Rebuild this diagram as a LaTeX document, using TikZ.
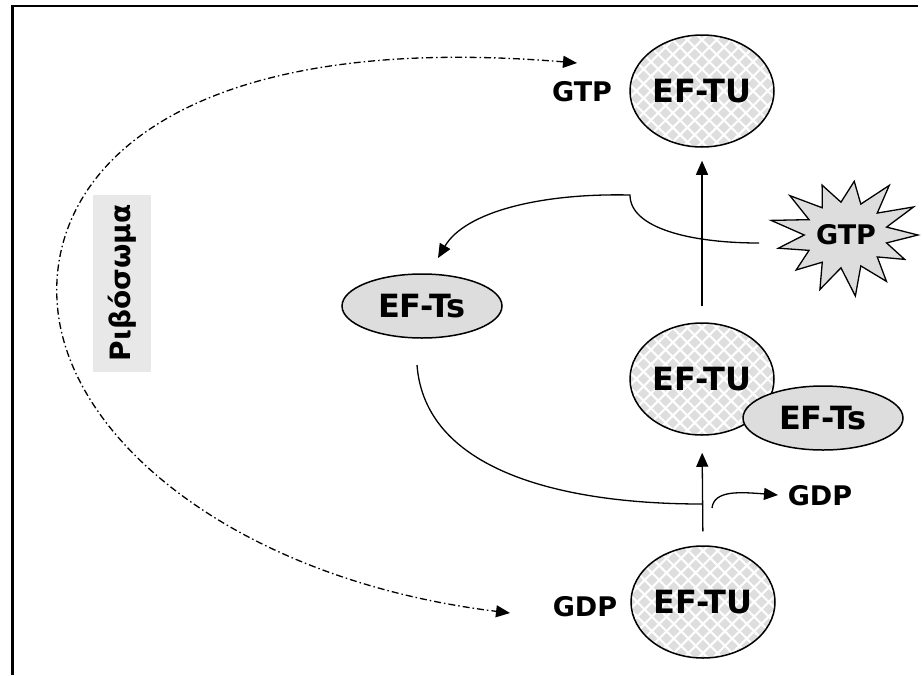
\documentclass[tikz,border=0pt]{standalone}
\usepackage{fontspec}
\setmainfont{DejaVu Sans}
\usetikzlibrary{shapes.geometric,arrows.meta,calc}
\definecolor{diamc}{HTML}{DEDEDE}
\definecolor{tsgray}{HTML}{DDDDDD}
\definecolor{ribgray}{HTML}{E8E8E8}
\newcommand{\myEF}{\bfseries\fontsize{32}{38}\selectfont}
\newcommand{\myLB}{\bfseries\fontsize{27}{32}\selectfont}
\newcommand{\myGR}{\bfseries\fontsize{28}{33}\selectfont}
\tikzset{
  diamonds/.style={path picture={
    \foreach \a in {-6,...,6}{\foreach \b in {-5,...,5}{
      \fill[diamc] ($(path picture bounding box.center)+(\a*14.6pt,\b*14.6pt)$)
        +(-5.6pt,0pt) -- +(0pt,-5.6pt) -- +(5.6pt,0pt) -- +(0pt,5.6pt) -- cycle;
      \fill[diamc] ($(path picture bounding box.center)+(\a*14.6pt+7.3pt,\b*14.6pt+7.3pt)$)
        +(-5.6pt,0pt) -- +(0pt,-5.6pt) -- +(5.6pt,0pt) -- +(0pt,5.6pt) -- cycle;
    }}}},
  tu/.style={ellipse, draw, line width=1.5pt, fill=white, diamonds,
    minimum width=144pt, minimum height=112pt, inner sep=0pt, font=\myEF},
  ts/.style={ellipse, draw, line width=1.5pt, fill=tsgray,
    minimum width=160pt, minimum height=64pt, inner sep=0pt, font=\myEF},
  lbl/.style={inner sep=0pt, font=\myLB},
  flow/.style={line width=1.3pt, -{Triangle[length=14pt,width=12pt]}},
  plain/.style={line width=1.3pt},
  ribo/.style={line width=1.3pt, dash pattern=on 7pt off 3pt on 1.5pt off 3pt,
    {Triangle[length=14pt,width=12pt]}-{Triangle[length=14pt,width=12pt]}},
  starsty/.style={draw, line width=1.3pt, fill=tsgray, line join=miter},
  ribbox/.style={rotate=90, fill=ribgray, minimum width=177pt, minimum height=58pt,
    inner sep=0pt, font=\myGR},
}
\begin{document}
\begin{tikzpicture}[x=1pt,y=-1pt]
\useasboundingbox (0,0) rectangle (923,675);
% frame (top and left edges only)
\draw[line width=2.4pt] (12.5,675) -- (12.5,6) -- (918,6);

% ribosome label
\node[ribbox] (ribo) at (122,283) {Ριβόσωμα};

% EF-TU nodes
\node[tu] (ttu) at (702,91) {EF-TU};
\node[tu] (mtu) at (702,379) {EF-TU};
\node[ts] (mts) at (823,418) {EF-Ts};
\node[tu] (btu) at (703,602) {EF-TU};
\node[ts] (tsl) at (422,306) {EF-Ts};

% labels
\node[lbl] (gtptop) at (582,92) {GTP};
\node[lbl] (gdpbot) at (585,607) {GDP};
\node[lbl] (gdpout) at (820,496) {GDP};

% star
\coordinate (gtpc) at (846,235);
\draw[starsty] ($(gtpc)+(72,0)$)
  \foreach \k in {1,...,25}{
    -- ($(gtpc)+({((1-mod(\k,2))*(1+0.08*sin(\k*137))+mod(\k,2)*0.58)*72*cos(\k*360/26)},
                 {((1-mod(\k,2))*(1+0.08*sin(\k*137))+mod(\k,2)*0.58)*57*sin(\k*360/26)})$)
  } -- cycle;
\node[lbl] (gtpstar) at (gtpc) {GTP};

% coordinates for free ends
\coordinate (hook) at (630,195);
\coordinate (starin) at (759,243);
\coordinate (tsin) at (438,258);
\coordinate (tsout) at (417,365);
\coordinate (joinpt) at (702,504);
\coordinate (gdpstart) at (712,508);
\coordinate (gdpin) at (778,495);
\coordinate (ribtop) at (577,63);
\coordinate (ribleft) at (57,300);
\coordinate (ribbot) at (510,613);

% vertical arrows
\draw[flow, shorten <=16pt, shorten >=13pt] (mtu.north) -- (ttu.south);
\draw[flow, shorten <=14pt, shorten >=17pt] (btu.north) -- (mtu.south);

% GTP star -> EF-Ts
\draw[flow] (starin) .. controls (690,243) and (630,228) .. (hook)
  .. controls (540,193) and (465,212) .. (tsin);

% EF-Ts -> join
\draw[plain] (tsout) .. controls (425,470) and (560,504) .. (joinpt);

% GDP release
\draw[flow] (gdpstart) .. controls (714,490) and (740,492) .. (gdpin);

% ribosome dash-dot
\draw[ribo] (ribtop) .. controls (180,30) and (50,170) .. (ribleft)
  .. controls (64,440) and (240,580) .. (ribbot);
\end{tikzpicture}
\end{document}
